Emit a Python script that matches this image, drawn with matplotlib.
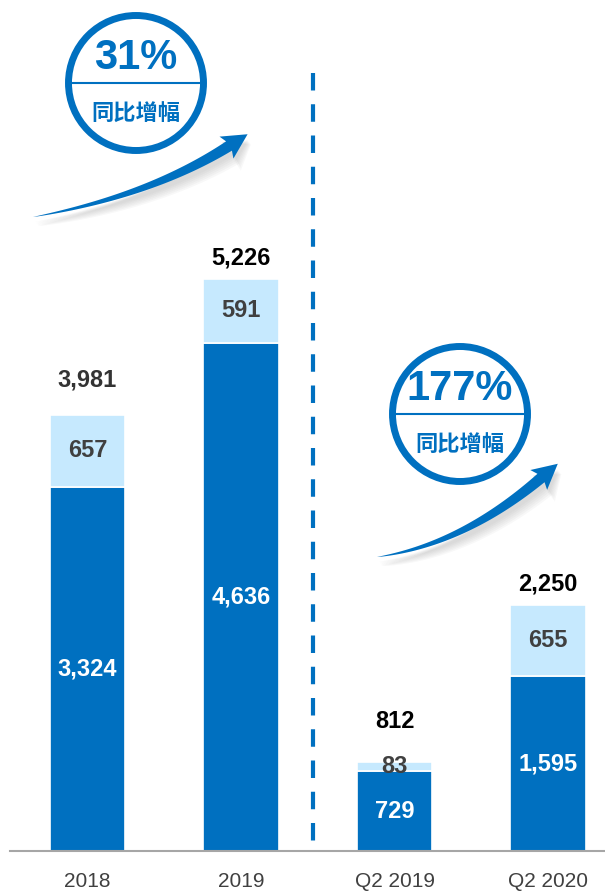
import numpy as np
import matplotlib
matplotlib.use("Agg")
import matplotlib.pyplot as plt
from matplotlib.patches import Circle, Polygon

plt.rcParams['font.family'] = ['Liberation Sans', 'Noto Sans CJK SC', 'DejaVu Sans']

# 数据
categories = ['2018', '2019', 'Q2 2019', 'Q2 2020']
dark_values = [3324, 4636, 729, 1595]
light_values = [657, 591, 83, 655]
totals = [3981, 5226, 812, 2250]
total_offsets = [25, 15, 29, 15]          # 总数标签离柱顶的距离(pt)
total_colors = ['#333333', '#000000', '#000000', '#000000']
growth_labels = ['31%', '177%']
growth_caption = '同比增幅'

DARK = '#0070C0'
LIGHT = '#C6E9FE'

W, H = 605, 891
fig = plt.figure(figsize=(W / 100, H / 100), dpi=100)

# 主坐标轴（柱状图）
x0_px, base_px, step_px, first_px = 10, 851, 153.5, 87.5
ax = fig.add_axes([x0_px / W, (H - base_px) / H, (W - x0_px) / W, base_px / H])
ax.set_xlim((x0_px - first_px) / step_px, (W - first_px) / step_px)
ax.set_ylim(0, base_px / (436 / 3981))

x = np.arange(len(categories))
bw = 0.49
ax.bar(x, dark_values, bw, color=DARK, edgecolor='white', linewidth=1.2, zorder=2)
ax.bar(x, light_values, bw, bottom=dark_values, color=LIGHT, edgecolor='white', linewidth=1.2, zorder=2)

fs = 17
for i in range(len(categories)):
    ax.text(x[i], dark_values[i] / 2, f'{dark_values[i]:,}', ha='center', va='center',
            color='white', fontsize=fs, fontweight='bold', zorder=3)
    if light_values[i] < 200:
        ax.annotate(f'{light_values[i]:,}', (x[i], dark_values[i] + light_values[i]),
                    xytext=(0, -3), textcoords='offset points', ha='center', va='center',
                    color='#404040', fontsize=fs, fontweight='bold', zorder=3)
    else:
        ax.text(x[i], dark_values[i] + light_values[i] / 2, f'{light_values[i]:,}',
                ha='center', va='center', color='#404040', fontsize=fs, fontweight='bold', zorder=3)
    ax.annotate(f'{totals[i]:,}', (x[i], totals[i]), xytext=(0, total_offsets[i]),
                textcoords='offset points', ha='center', va='center',
                color=total_colors[i], fontsize=fs, fontweight='bold', zorder=3)

ax.set_xticks(x)
ax.set_xticklabels(categories, fontsize=15, color='#404040')
ax.tick_params(axis='x', length=0, pad=15)
ax.set_yticks([])
for s in ['top', 'left', 'right']:
    ax.spines[s].set_visible(False)
ax.spines['bottom'].set_color('#A6A6A6')
ax.spines['bottom'].set_linewidth(1.5)
ax.patch.set_alpha(0)

# 装饰层（像素坐标）
ov = fig.add_axes([0, 0, 1, 1])
ov.set_xlim(0, W)
ov.set_ylim(H, 0)
ov.axis('off')
ov.patch.set_alpha(0)

# 虚线分隔
ov.plot([313, 313], [73, base_px], color=DARK, linewidth=3, linestyle=(0, (4.2, 3.3)))


def swoosh(p0, p1, p2, wmax, head_len, head_hw, color, dx=0, dy=0, alpha=1.0, z=3):
    t = np.linspace(0, 1, 80)[:, None]
    p0, p1, p2 = np.array(p0, float), np.array(p1, float), np.array(p2, float)
    pts = (1 - t) ** 2 * p0 + 2 * (1 - t) * t * p1 + t ** 2 * p2
    d = 2 * (1 - t) * (p1 - p0) + 2 * t * (p2 - p1)
    d = d / np.linalg.norm(d, axis=1, keepdims=True)
    n = np.column_stack([-d[:, 1], d[:, 0]])
    w = wmax * t[:, 0] ** 0.8 / 2
    up = pts + n * w[:, None]
    lo = pts - n * w[:, None]
    de, ne = d[-1], n[-1]
    tip = p2 + de * head_len
    b1 = p2 + ne * head_hw - de * 3
    b2 = p2 - ne * head_hw - de * 3
    poly = np.vstack([up, b1, tip, b2, lo[::-1]]) + np.array([dx, dy])
    ov.add_patch(Polygon(poly, closed=True, facecolor=color, edgecolor='none', alpha=alpha, zorder=z))


def badge(cx, cy, label):
    ov.add_patch(Circle((cx, cy), 67.5, facecolor='white', edgecolor=DARK, linewidth=5, zorder=4))
    ov.plot([cx - 65, cx + 65], [cy, cy], color=DARK, linewidth=1.5, zorder=5)
    ov.text(cx, cy - 25, label, ha='center', va='center', color=DARK, fontsize=30,
            fontweight='bold', zorder=6)
    ov.text(cx, cy + 32, growth_caption, ha='center', va='center', color=DARK, fontsize=16,
            fontweight='bold', zorder=6)


arrows = [((33, 217), (150, 196), (229, 146)), ((377, 557), (462, 545), (541, 478))]
for p0, p1, p2 in arrows:
    for k in range(6):
        swoosh(p0, p1, p2, 10 + 2 * k, 20, 12 + k, '#7F7F7F', dx=2 + k * 0.6, dy=5 + k * 0.8,
               alpha=0.05, z=2)
    swoosh(p0, p1, p2, 11, 22, 13, DARK)

badge(136, 83, growth_labels[0])
badge(460, 414, growth_labels[1])

fig.savefig('out.png', dpi=100)
